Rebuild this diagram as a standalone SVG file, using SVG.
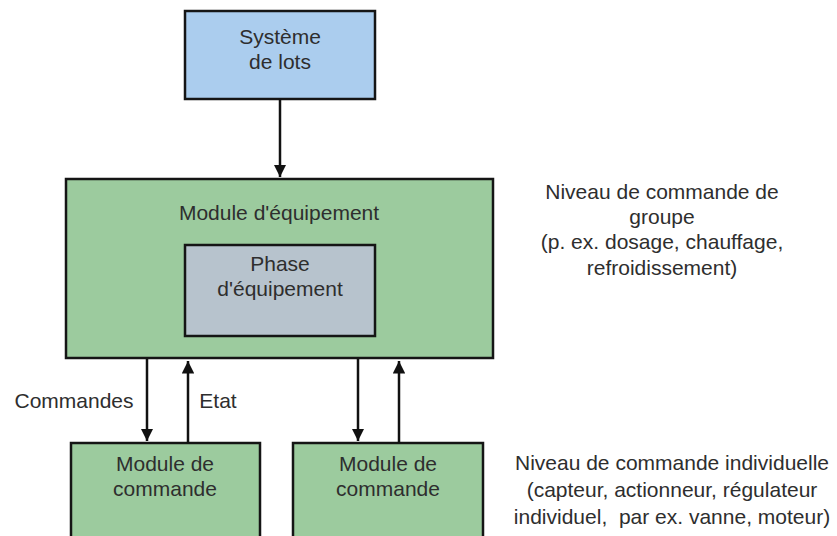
<svg xmlns="http://www.w3.org/2000/svg" width="837" height="536" viewBox="0 0 837 536">
<defs>
<marker id="ah" viewBox="0 0 10 10" refX="10" refY="5" markerWidth="5" markerHeight="5" orient="auto" markerUnits="strokeWidth">
<path d="M0,0 L10,5 L0,10 Z" fill="#111"/>
</marker>
</defs>
<style>
text{font-family:"Liberation Sans",Arial,sans-serif;font-size:21px;fill:#2e2e2e;text-anchor:middle;dominant-baseline:central}
.box{stroke:#151515;stroke-width:2.5}
.c{stroke:#111;stroke-width:2.5;fill:none;marker-end:url(#ah)}
</style>
<rect width="837" height="536" fill="#fff"/>
<g id="systeme">
<rect class="box" x="185" y="11" width="190" height="88" fill="#abcdee"/>
<text x="280" y="36">Système</text>
<text x="280" y="61">de lots</text>
</g>
<g id="module-equipement">
<rect class="box" x="66" y="179" width="427" height="179" fill="#9ccb9e"/>
<text x="279" y="212">Module d'équipement</text>
</g>
<g id="phase">
<rect class="box" x="185" y="245" width="190" height="91" fill="#b7c3cd"/>
<text x="280" y="263">Phase</text>
<text x="280" y="288">d'équipement</text>
</g>
<g id="cm1">
<rect class="box" x="71" y="443" width="189" height="110" fill="#9ccb9e"/>
<text x="165" y="463">Module de</text>
<text x="165" y="488">commande</text>
</g>
<g id="cm2">
<rect class="box" x="293" y="443" width="190" height="110" fill="#9ccb9e"/>
<text x="388" y="463">Module de</text>
<text x="388" y="488">commande</text>
</g>
<g id="connectors">
<line class="c" x1="280" y1="99" x2="280" y2="177"/>
<line class="c" x1="147" y1="359" x2="147" y2="441"/>
<line class="c" x1="188" y1="443" x2="188" y2="361"/>
<line class="c" x1="358" y1="359" x2="358" y2="441"/>
<line class="c" x1="399" y1="443" x2="399" y2="361"/>
</g>
<g id="labels">
<text x="74" y="400">Commandes</text>
<text x="218" y="400">Etat</text>
<text x="662" y="191">Niveau de commande de</text>
<text x="662" y="216">groupe</text>
<text x="662" y="241">(p. ex. dosage, chauffage,</text>
<text x="662" y="267">refroidissement)</text>
<text x="672" y="462">Niveau de commande individuelle</text>
<text x="672" y="489">(capteur, actionneur, régulateur</text>
<text x="672" y="516">individuel,&#160; par ex. vanne, moteur)</text>
</g>
</svg>
